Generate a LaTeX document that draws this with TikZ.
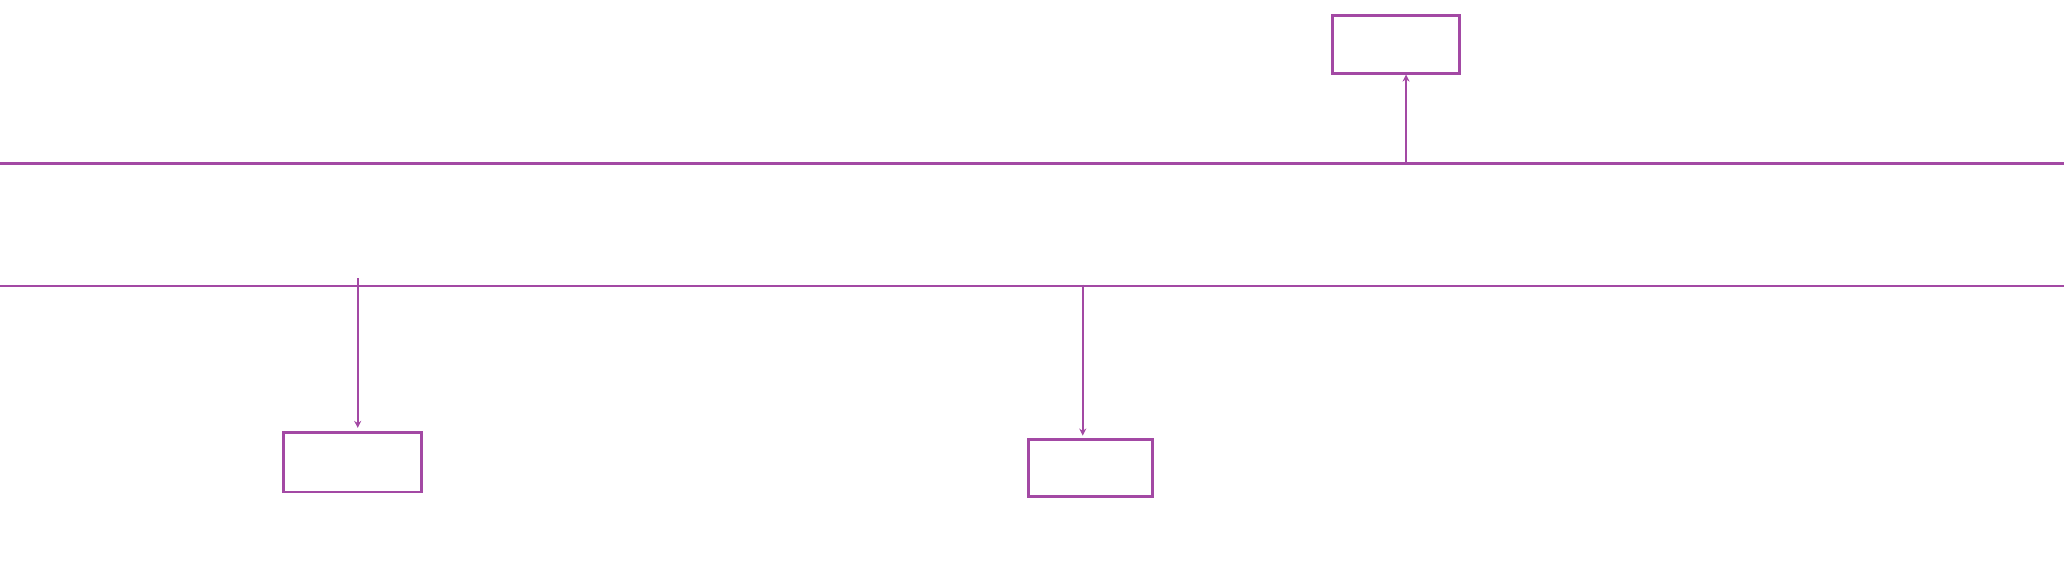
\documentclass[tikz,border=0pt]{standalone}
\usetikzlibrary{arrows.meta}
\definecolor{busviolet}{RGB}{163,73,164}
\tikzset{
  busline/.style={draw=busviolet, line width=1.7pt},
  unitbox/.style={draw=busviolet, line width=1.7pt, inner sep=0pt, fill=white},
  feed/.style={draw=busviolet, line width=1.2pt, -{Stealth[length=4pt,width=4pt]}}
}
\begin{document}
\begin{tikzpicture}[x=0.02cm, y=-0.02cm]
            \useasboundingbox (0,0) rectangle (2064,567);
            % the two buses
            \coordinate (busAw) at (0,163.3);
            \coordinate (busAe) at (2064,163.3);
            \coordinate (busBw) at (0,286);
            \coordinate (busBe) at (2064,286);
            \draw[busline] (busAw) -- (busAe);
            \draw[busline] (busBw) -- (busBe);
            % boxes
            \node[unitbox, minimum width=2.53cm, minimum height=1.15cm] (top) at (1396.2,44.3) {};
            \node[unitbox, minimum width=2.76cm, minimum height=1.2cm] (lft) at (352.3,462) {};
            \node[unitbox, minimum width=2.48cm, minimum height=1.14cm] (mid) at (1090.7,468.2) {};
            % taps
            \coordinate (tapA) at (1406,163.3);
            \coordinate (tapB) at (357.7,278.3);
            \coordinate (tapC) at (1082.7,284.7);
            \draw[feed] (tapA) -- (tapA |- top.south);
            \draw[feed, shorten >=1.5pt] (tapB) -- (tapB |- lft.north);
            \draw[feed, shorten >=1.5pt] (tapC) -- (tapC |- mid.north);
\end{tikzpicture}
\end{document}
